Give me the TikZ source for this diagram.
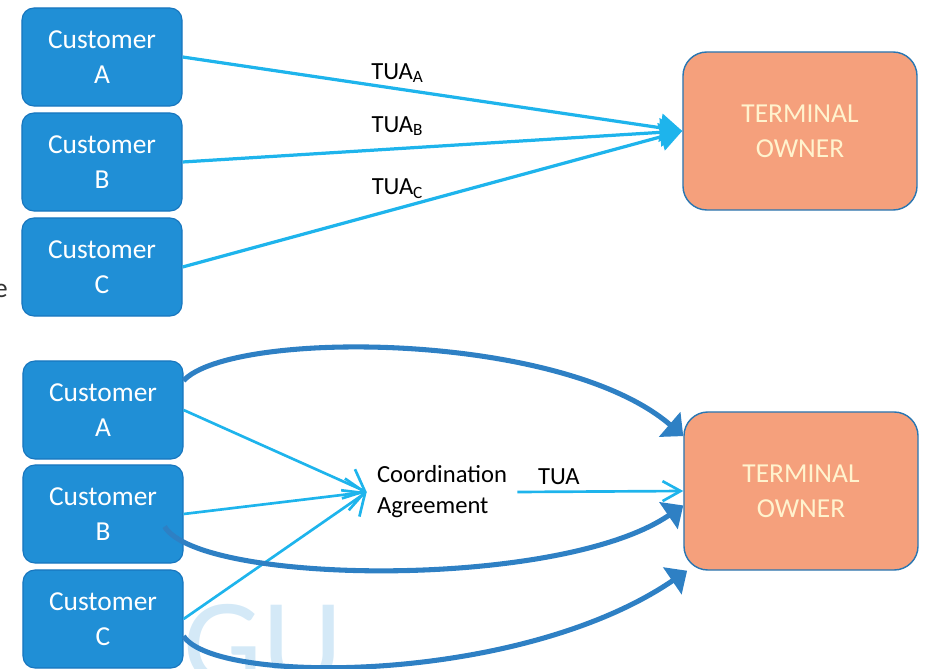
\documentclass[tikz,border=0pt]{standalone}
\usepackage{fontspec}
\setmainfont{Carlito}
\usetikzlibrary{arrows.meta}

\definecolor{custfill}{RGB}{32,143,214}
\definecolor{custedge}{RGB}{24,118,190}
\definecolor{thinline}{RGB}{30,180,236}
\definecolor{thickline}{RGB}{46,128,196}
\definecolor{ownerfill}{RGB}{245,160,124}
\definecolor{owneredge}{RGB}{40,118,178}
\definecolor{ownertext}{RGB}{255,243,206}
\definecolor{wmark}{RGB}{212,233,247}

\begin{document}
\begin{tikzpicture}[x=0.025cm, y=-0.025cm]

                \tikzstyle{customer} = [rectangle, rounded corners=0.3cm, draw=custedge, line width=0.8pt, fill=custfill, text=white, minimum width=4cm, minimum height=2.45cm, align=center, font=\fontsize{19.5}{25}\selectfont]
                \tikzstyle{owner}    = [rectangle, rounded corners=0.6cm, draw=owneredge, line width=1pt, fill=ownerfill, text=ownertext, minimum width=5.85cm, minimum height=3.95cm, align=center, font=\fontsize{19.5}{25}\selectfont]
                \tikzstyle{lbl}      = [font=\fontsize{17.5}{22}\selectfont, inner sep=2pt]
                \tikzstyle{feed}     = [draw=thinline, line width=2.3pt, -{Triangle[length=0.55cm, width=0.7cm]}]
                \tikzstyle{thin}     = [draw=thinline, line width=1.9pt, -{Straight Barb[length=0.45cm, width=0.8cm, line width=1.9pt]}]
                \tikzstyle{thick}    = [draw=thickline, line width=3.6pt, -{Triangle[length=0.45cm, width=0.8cm]}]

                \useasboundingbox (0,0) rectangle (928,669);

                % watermark and cut text
                \node [anchor=base west, text=wmark, inner sep=0pt, font=\fontsize{89}{89}\selectfont] (wm) at (183,685) {GU};
                \node [anchor=east, text=black!80, inner sep=0pt, font=\fontsize{19.5}{25}\selectfont] (cut) at (8,291) {e};

                % upper part
                \node [customer] (cA1) at (102,57) {Customer\\A};
                \node [customer] (cB1) at (102,162) {Customer\\B};
                \node [customer] (cC1) at (102,267) {Customer\\C};
                \node [owner] (to1) at (800,131) {TERMINAL\\OWNER};

                \draw [feed] (cA1.east) -- node [lbl, pos=.43, above=1pt] {TUA\textsubscript{A}} (to1.west);
                \draw [feed] (cB1.east) -- node [lbl, pos=.43, above=6pt] {TUA\textsubscript{B}} (to1.west);
                \draw [feed] (cC1.east) -- node [lbl, pos=.43, above=4pt] {TUA\textsubscript{C}} (to1.west);

                % lower part
                \node [customer] (cA2) at (103,410) {Customer\\A};
                \node [customer] (cB2) at (103,514) {Customer\\B};
                \node [customer] (cC2) at (103,619) {Customer\\C};
                \node [owner] (to2) at (801,491) {TERMINAL\\OWNER};
                \node [lbl, align=left, inner sep=0.25cm] (ca) at (442,492) {Coordination\\Agreement};

                \draw [thin] (cA2.east) -- (ca.west);
                \draw [thin] (cB2.east) -- (ca.west);
                \draw [thin] (cC2.east) -- (ca.west);
                \draw [thin, -{Straight Barb[length=0.45cm, width=0.5cm, line width=1.9pt]}] (ca.east) -- node [lbl, pos=.25, above=2pt] {TUA} (to2.west);

                \draw [thick] (cA2.20) .. controls (230,330) and (560,330) .. (to2.155);
                \draw [thick] ([shift={(-19,-37)}]cB2.south east) .. controls (200,585) and (560,590) .. (to2.-173);
                \draw [thick] (cC2.-12) .. controls (215,685) and (520,685) .. (to2.-145);
\end{tikzpicture}
\end{document}
